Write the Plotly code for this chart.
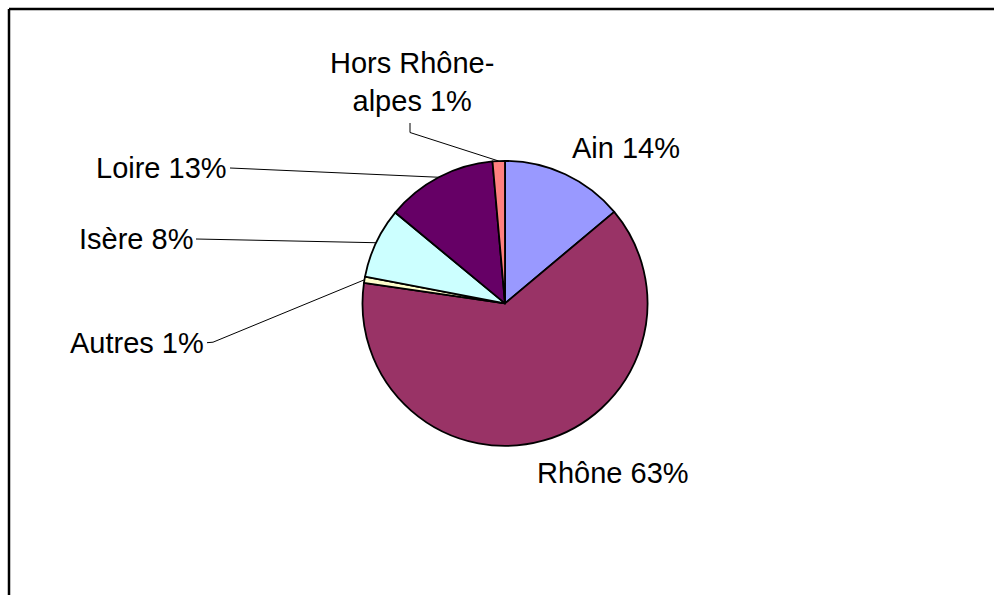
import math
import plotly.graph_objects as go

# ---- data ----
labels = ["Ain", "Rhône", "Autres", "Isère", "Loire", "Hors Rhône-alpes"]
values = [13.9, 63.4, 0.7, 8.0, 12.6, 1.4]
colors = ["#9999FF", "#993366", "#FFFFCC", "#CCFFFF", "#660066", "#FF8080"]

# ---- layout constants (screen pixels, y down) ----
W, H = 994, 595
CX, CY, R = 505, 303.4, 142.5
FONT = dict(family="Liberation Sans, Arial, sans-serif", size=29, color="black")

total = sum(values)
pcts = [round(v / total * 100) for v in values]
texts = [f"{l} {p}%" for l, p in zip(labels, pcts)]
texts[5] = f"Hors Rhône-<br>alpes {pcts[5]}%"

# label placement: (x, y, xanchor, leader points before the slice edge or None)
placement = {
    "Ain": (625.5, 148, "center", None),
    "Rhône": (612.5, 473, "center", None),
    "Autres": (206, 343, "right", [(207, 342.7), (213, 342.2)]),
    "Isère": (195, 239, "right", [(196, 239)]),
    "Loire": (229, 168, "right", [(230, 168)]),
    "Hors Rhône-alpes": (412, 82, "center", [(410, 123), (410, 132.5)]),
}

fig = go.Figure()

px_x = lambda x: x / W
px_y = lambda y: 1 - y / H

fig.add_trace(go.Pie(
    labels=labels, values=values, sort=False, direction="clockwise", rotation=0,
    marker=dict(colors=colors, line=dict(color="black", width=1.8)),
    textinfo="none", hoverinfo="label+percent", showlegend=False,
    domain=dict(x=[px_x(CX - R), px_x(CX + R)],
                y=[px_y(CY + R), px_y(CY - R)]),
))

# leader lines from labels to slice mid-edges, computed from the data
start = 0.0
for lab, v, txt in zip(labels, values, texts):
    mid = start + v / total * 360 / 2
    start += v / total * 360
    ex = CX + R * math.sin(math.radians(mid))
    ey = CY - R * math.cos(math.radians(mid))
    lx, ly, anchor, pts = placement[lab]
    if pts:
        xs = [p[0] for p in pts] + [ex]
        ys = [p[1] for p in pts] + [ey]
        fig.add_trace(go.Scatter(x=xs, y=ys, mode="lines",
                                 line=dict(color="black", width=1),
                                 hoverinfo="skip", showlegend=False))
    fig.add_annotation(x=lx, y=ly, text=txt, showarrow=False, xanchor=anchor,
                       yanchor="middle", align="center", font=FONT,
                       xref="x", yref="y")

# chart frame: only left and top edges are visible in the window
fig.add_shape(type="line", x0=9, y0=9, x1=W, y1=9,
              line=dict(color="black", width=2.5), xref="x", yref="y")
fig.add_shape(type="line", x0=9, y0=9, x1=9, y1=H,
              line=dict(color="black", width=2.5), xref="x", yref="y")

fig.update_layout(
    width=W, height=H, margin=dict(l=0, r=0, t=0, b=0),
    paper_bgcolor="white", plot_bgcolor="rgba(0,0,0,0)",
    xaxis=dict(range=[0, W], visible=False, domain=[0, 1], fixedrange=True),
    yaxis=dict(range=[H, 0], visible=False, domain=[0, 1], fixedrange=True),
)

fig.write_html(
    "out.html",
    config={"displayModeBar": False},
    post_script="document.body.style.margin='0';document.body.style.overflow='hidden';",
)
